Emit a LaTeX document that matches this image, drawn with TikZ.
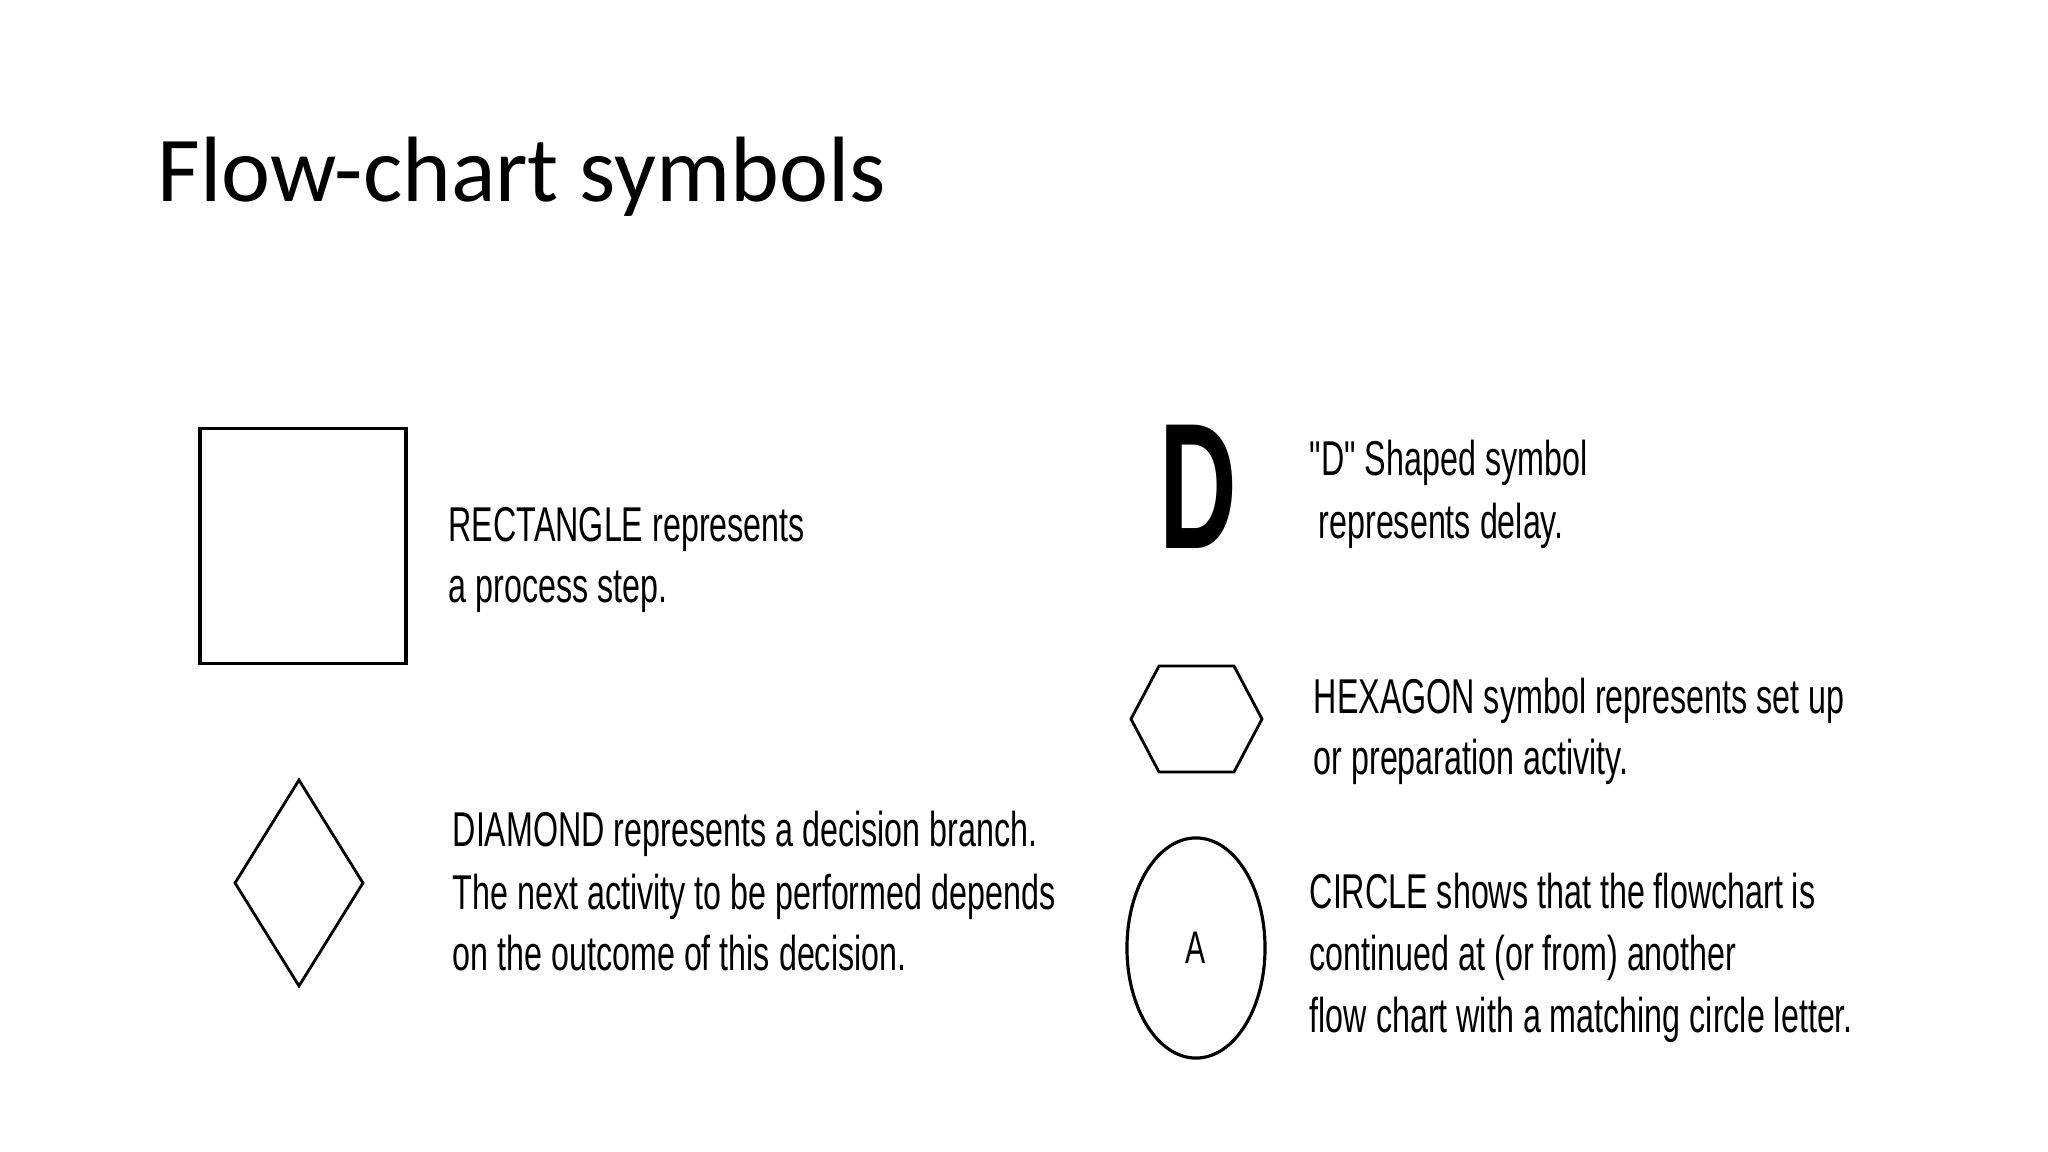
\documentclass[tikz,border=0pt]{standalone}
\usepackage{fontspec}
\setmainfont{Liberation Sans}
\newfontfamily\titlefont{Carlito}
\newfontfamily\descfont[FakeStretch=0.66]{Liberation Sans}
\newfontfamily\delayfont[FakeStretch=0.6]{Liberation Sans}
\usetikzlibrary{shapes.geometric}

\tikzset{
    symbolline/.style={draw, line width=0.8pt},
    desc/.style={anchor=base west, inner sep=0pt, font=\descfont\fontsize{13.9}{16}\selectfont}
}

\begin{document}
\begin{tikzpicture}[x=0.01cm, y=-0.01cm]
    \useasboundingbox (0,0) rectangle (2048,1152);

    % Title
    \node[anchor=base west, inner sep=0pt, font=\titlefont\fontsize{26.4}{30}\selectfont] (title) at (157,202) {Flow-chart symbols};

    % Rectangle
    \node[symbolline, rectangle, line width=0.9pt, minimum width=2.06cm, minimum height=2.35cm] (process) at (303,546) {};
    \node[desc] (processA) at (448,542) {RECTANGLE represents};
    \node[desc] (processB) at (448,603) {a process step.};

    % Diamond
    \node[symbolline, diamond, inner sep=0pt, minimum width=1.29cm, minimum height=2.07cm] (decision) at (299,883) {};
    \node[desc] (decisionA) at (452,846) {DIAMOND represents a decision branch.};
    \node[desc] (decisionB) at (452,909) {The next activity to be performed depends};
    \node[desc] (decisionC) at (452,970) {on the outcome of this decision.};

    % D shaped symbol
    \node[anchor=base, inner sep=0pt, font=\delayfont\bfseries\fontsize{51}{51}\selectfont] (delay) at (1198,549) {D};
    \node[desc] (delayA) at (1309,476) {"D" Shaped symbol};
    \node[desc] (delayB) at (1309,538) {\ represents delay.};

    % Hexagon
    \draw[symbolline] (1131,719) -- (1159,666) -- (1234,666) -- (1262,719) -- (1234,772) -- (1159,772) -- cycle;
    \node[desc] (setupA) at (1313,713) {HEXAGON symbol represents set up};
    \node[desc] (setupB) at (1313,774) {or preparation activity.};

    % Circle
    \node[symbolline, ellipse, line width=0.9pt, inner sep=0pt, minimum width=1.38cm, minimum height=2.2cm] (connector) at (1196,948) {};
    \node[inner sep=0pt, font=\descfont\fontsize{13}{13}\selectfont] (letter) at (connector.center) {A};
    \node[desc] (connectorA) at (1309,908) {CIRCLE shows that the flowchart is};
    \node[desc] (connectorB) at (1309,970) {continued at (or from) another};
    \node[desc] (connectorC) at (1309,1032) {flow chart with a matching circle letter.};
\end{tikzpicture}
\end{document}
